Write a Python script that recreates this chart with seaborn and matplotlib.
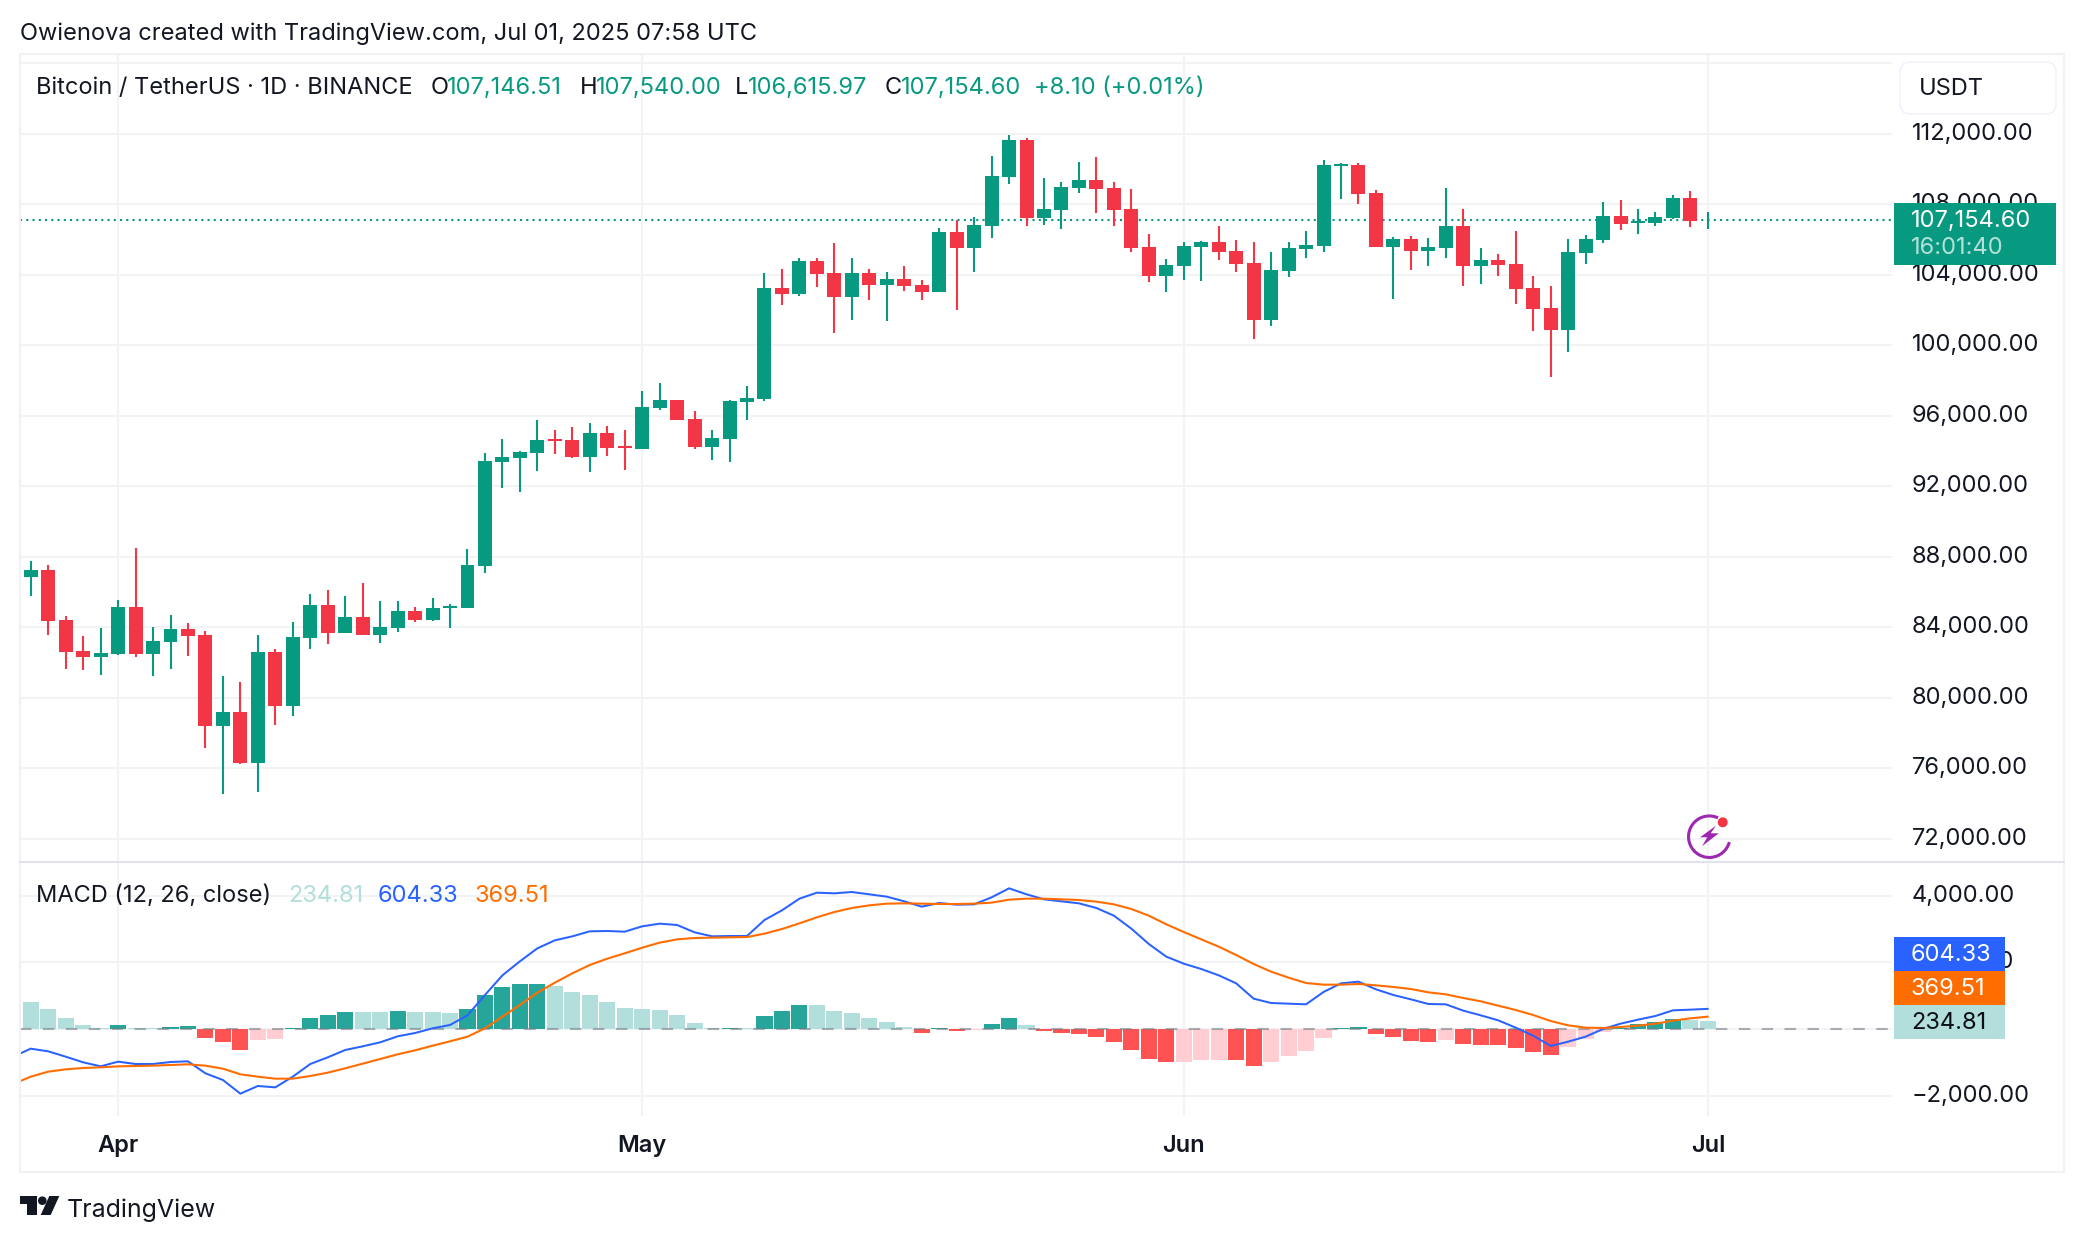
import numpy as np
import matplotlib
matplotlib.use('Agg')
import matplotlib.pyplot as plt
from matplotlib.patches import Rectangle, FancyBboxPatch, Circle, Arc, Polygon
from matplotlib.transforms import Affine2D
import seaborn as sns

# ---- daily candles, Mar 27 to Jul 1 2025
opens = [86850, 87245, 84415, 82655, 82315, 82485, 85150, 82485, 83165, 83905,
         83565, 78410, 79200, 76315, 82600, 79540, 83395, 85260, 83675, 84585,
         83565, 83960, 84925, 84415, 85090, 85090, 87470, 93380, 93605, 93890,
         94680, 94625, 93660, 95020, 94285, 94115, 96440, 96895, 95815, 94230,
         94680, 96780, 96950, 103245, 102905, 104775, 104095, 102735, 104095, 103415,
         103755, 103415, 103040, 106445, 105535, 106785, 109560, 111660, 107235, 107690,
         108940, 109390, 108940, 107750, 105595, 103950, 104515, 105595, 105875, 105365,
         104685, 101455, 104230, 105480, 105650, 110185, 110240, 108655, 105595, 106045,
         105365, 105535, 106785, 104515, 104855, 104630, 103270, 102135, 100885, 105255,
         105990, 107350, 106955, 106955, 107235, 108370, 107146.51]
highs = [87755, 87530, 84640, 83505, 83960, 85545, 88490, 84015, 84695, 84245,
         83790, 81240, 80900, 83565, 82770, 84300, 85885, 86110, 85770, 86510,
         85490, 85490, 85150, 85660, 85320, 88435, 93890, 94680, 94000, 95760,
         95195, 95365, 95590, 95420, 95195, 97405, 97860, 96895, 96270, 95195,
         96895, 97685, 104095, 104320, 104945, 104945, 105795, 104945, 104320, 104150,
         104490, 103700, 106670, 107125, 107295, 110750, 111945, 111775, 109505, 109280,
         110410, 110695, 109280, 108880, 106330, 104910, 105875, 105935, 106785, 105990,
         105875, 105310, 105875, 106500, 110525, 110355, 110355, 108825, 106160, 106215,
         106105, 108940, 107750, 105535, 105195, 106500, 103950, 103380, 106045, 106275,
         108145, 108260, 107750, 107575, 108540, 108770, 107540.00]
lows = [85770, 83560, 81635, 81580, 81300, 82430, 82315, 81240, 81635, 82375,
        77165, 74555, 76255, 74670, 78465, 78975, 82770, 83055, 83675, 83565,
        83110, 83735, 84300, 84355, 83960, 85090, 87075, 91905, 91675, 92870,
        93830, 93605, 92810, 93720, 92925, 94115, 96325, 95760, 94115, 93490,
        93380, 95760, 96835, 102280, 102790, 103300, 100695, 101430, 102565, 101375,
        103075, 102565, 103040, 102020, 104175, 106105, 109165, 106785, 106840, 106615,
        108655, 107520, 106785, 105310, 103610, 103040, 103720, 103665, 104855, 104175,
        100375, 101115, 103890, 104970, 105310, 108315, 108030, 105595, 102645, 104290,
        104515, 104970, 103380, 103495, 103950, 102360, 100830, 98220, 99640, 104630,
        105820, 106555, 106330, 106785, 107180, 106725, 106615.97]
closes = [87245, 84355, 82600, 82315, 82545, 85150, 82485, 83225, 83905, 83505,
          78410, 79200, 76315, 82600, 79540, 83450, 85260, 83675, 84585, 83565,
          84015, 84925, 84415, 85090, 85205, 87530, 93435, 93660, 93945, 94625,
          94570, 93660, 95020, 94170, 94170, 96495, 96895, 95760, 94230, 94740,
          96835, 97005, 103245, 102905, 104775, 104040, 102735, 104095, 103415, 103755,
          103355, 103015, 106445, 105535, 106840, 109620, 111660, 107235, 107750, 108995,
          109390, 108880, 107690, 105535, 103950, 104570, 105650, 105875, 105310, 104630,
          101455, 104290, 105535, 105705, 110240, 110300, 108600, 105595, 106045, 105365,
          105595, 106785, 104515, 104855, 104570, 103210, 102080, 100885, 105310, 106045,
          107350, 106895, 107065, 107295, 108370, 107065, 107154.60]

# ---- MACD pane, first value of the two lines is the day before the first candle
macd_line = [-830, -590, -670, -830, -1000, -1120, -980, -1050, -1050, -990,
             -970, -1330, -1530, -1940, -1710, -1750, -1430, -1050, -850, -630,
             -520, -400, -220, -120, 20, 120, 410, 1020, 1610, 2030,
             2420, 2660, 2780, 2930, 2940, 2920, 3080, 3160, 3120, 2900,
             2780, 2790, 2790, 3270, 3560, 3910, 4090, 4070, 4110, 4040,
             3970, 3830, 3670, 3780, 3730, 3740, 3950, 4220, 4040, 3890,
             3830, 3770, 3630, 3400, 3010, 2550, 2170, 1960, 1800, 1610,
             1370, 910, 780, 760, 740, 1110, 1370, 1420, 1190, 1020,
             890, 750, 740, 550, 410, 260, 40, -200, -510, -380,
             -230, 0, 160, 280, 390, 560, 580, 604.33]
signal_line = [-1650, -1430, -1280, -1210, -1170, -1150, -1120, -1110, -1100, -1080,
               -1060, -1100, -1190, -1360, -1430, -1490, -1490, -1410, -1310, -1180,
               -1040, -900, -760, -640, -500, -370, -230, 20, 370, 720,
               1090, 1390, 1670, 1920, 2110, 2270, 2440, 2590, 2690, 2730,
               2740, 2750, 2760, 2860, 3000, 3170, 3350, 3510, 3630, 3710,
               3760, 3770, 3760, 3750, 3750, 3760, 3790, 3880, 3910, 3910,
               3890, 3870, 3820, 3740, 3600, 3400, 3140, 2910, 2690, 2470,
               2220, 1950, 1720, 1540, 1380, 1330, 1330, 1350, 1310, 1260,
               1200, 1100, 1040, 930, 830, 700, 570, 420, 240, 110,
               40, 30, 60, 100, 160, 250, 320, 369.51]
histogram = [810, 600, 330, 120, 30, 120, 30, 30, 60, 90,
             -270, -390, -630, -330, -300, 30, 330, 420, 510, 510,
             510, 540, 510, 510, 480, 600, 1020, 1260, 1350, 1360,
             1290, 1110, 1020, 810, 630, 600, 570, 420, 180, 20,
             30, 20, 390, 540, 720, 720, 540, 480, 330, 210,
             60, -120, 30, -60, -30, 150, 330, 120, -60, -120,
             -150, -240, -390, -630, -900, -990, -985, -930, -925, -940,
             -1110, -990, -810, -660, -270, 30, 60, -150, -240, -360,
             -390, -330, -450, -480, -490, -570, -690, -780, -540, -300,
             -90, 30, 150, 210, 300, 270, 234.81]

price_ticks = [72000, 76000, 80000, 84000, 88000, 92000, 96000, 100000, 104000, 108000, 112000, 116000]
macd_ticks = [-2000, 0, 2000, 4000]
macd_tick_labels = ['\u22122,000.00', '0.00', '2,000.00', '4,000.00']
month_days = [5, 35, 66, 96]
month_labels = ['Apr', 'May', 'Jun', 'Jul']
last_price = 107154.60

UP = '#089981'
DOWN = '#F23645'
INK = '#131722'
GRID = '#F2F3F5'
BORDER = '#F0F1F4'
BLUE = '#2962FF'
ORANGE = '#FF6D00'
W, H = 2084, 1242

sns.set_theme(style='white')
plt.rcParams['font.family'] = ['Inter', 'DejaVu Sans']
plt.rcParams['ytick.alignment'] = 'center'
FS = 17
HEAD = 17

fig = plt.figure(figsize=(W / 100, H / 100), dpi=100, facecolor='white')
# pixels measured from the top left corner, for everything around the plots
px = Affine2D().scale(1, -1).translate(0, H)


def add_axes_px(left, top, right, bottom):
    return fig.add_axes([left / W, 1 - bottom / H, (right - left) / W, (bottom - top) / H])


ax1 = add_axes_px(20, 54, 1892, 862)
ax2 = add_axes_px(20, 862, 1892, 1116)

days = np.arange(len(opens))
opens_a, closes_a = np.array(opens), np.array(closes)
rising = closes_a >= opens_a
candle_colors = np.where(rising, UP, DOWN)

# ---- price pane
ax1.vlines(days, lows, highs, colors=candle_colors, linewidth=1.5, zorder=3)
ax1.bar(days, np.abs(closes_a - opens_a), bottom=np.minimum(opens_a, closes_a), width=0.8,
        color=candle_colors, linewidth=0, zorder=4)
ax1.axhline(last_price - 50, color=UP, linewidth=1.5, linestyle=(0, (1, 2)), zorder=2)

# ---- macd pane
hist = np.array(histogram)
prev = np.r_[np.inf, hist[:-1]]
hist_class = np.where(hist >= 0,
                      np.where(hist > prev, 'up strong', 'up weak'),
                      np.where(hist > prev, 'down weak', 'down strong'))
hist_palette = {'up strong': '#26A69A', 'up weak': '#B2DFDB', 'down weak': '#FFCDD2', 'down strong': '#FF5252'}
sns.barplot(x=days, y=hist, hue=hist_class, palette=hist_palette, dodge=False, native_scale=True,
            width=0.92, saturation=1, legend=False, linewidth=0, ax=ax2, zorder=3)
line_days = np.arange(-1, len(opens))
sns.lineplot(x=line_days, y=macd_line, color=BLUE, linewidth=1.45, estimator=None, ax=ax2, zorder=5)
sns.lineplot(x=line_days, y=signal_line, color=ORANGE, linewidth=1.5, estimator=None, ax=ax2, zorder=6)
ax2.axhline(0, color='#787B86', alpha=0.6, linewidth=1.5, linestyle=(0, (5.5, 5.5)), zorder=4)

for ax in (ax1, ax2):
    ax.set_xlim(-0.615, 106.54)
    ax.set_xticks(month_days)
    ax.grid(True, color=GRID, linewidth=1.5, zorder=0)
    ax.set_axisbelow(True)
    ax.yaxis.tick_right()
    ax.tick_params(axis='both', length=0, labelcolor=INK, labelsize=FS)
    ax.tick_params(axis='y', pad=14)
    ax.set_xlabel('')
    ax.set_ylabel('')
    sns.despine(ax=ax, left=True, bottom=True, right=True, top=True)

ax1.set_ylim(70680, 116520)
ax1.set_yticks(price_ticks)
ax1.set_yticklabels([f'{t:,.2f}' for t in price_ticks[:-1]] + [''])
ax1.tick_params(axis='x', labelbottom=False)

ax2.set_ylim(-2610, 5010)
ax2.set_yticks(macd_ticks)
ax2.set_yticklabels(macd_tick_labels)
ax2.set_xticks(month_days)
ax2.set_xticklabels(month_labels, fontweight='semibold')
ax2.tick_params(axis='x', pad=14)

# ---- frame and pane separator
fig.add_artist(Rectangle((20, 54), 2044, 1118, transform=px, fill=False, edgecolor=BORDER, linewidth=1.5, zorder=1))
fig.add_artist(plt.Line2D([20, 2064], [862, 862], transform=px, color='#E0E3EB', linewidth=1.5, zorder=1))


# tags sit above the tick labels, as in the reference
def tag(x0, y0, x1, y1, face):
    fig.add_artist(Rectangle((x0, y0), x1 - x0, y1 - y0, transform=px, facecolor=face, linewidth=0, zorder=5))


def label(x, y, s, color=INK, size=FS, **kw):
    fig.text(x, y, s, transform=px, color=color, fontsize=size, va='center', zorder=6, **kw)


# ---- price tag and currency button
tag(1894, 203, 2056, 265, UP)
label(1911, 221, f'{last_price:,.2f}', color='white')
label(1911, 248, '16:01:40', color='#B5E0D9')
fig.add_artist(FancyBboxPatch((1904, 66), 148, 44, boxstyle='round,pad=4,rounding_size=10', transform=px,
                              facecolor='white', edgecolor='#F0F3FA', linewidth=1.2, zorder=5))
label(1919, 89, 'USDT')

# ---- macd value tags
tag(1894, 937, 2005, 971, BLUE)
tag(1894, 971, 2005, 1005, ORANGE)
tag(1894, 1005, 2005, 1039, '#B2DFDB')
label(1911, 955, f'{macd_line[-1]:.2f}', color='white')
label(1911, 989, f'{signal_line[-1]:.2f}', color='white')
label(1911, 1023, f'{histogram[-1]:.2f}', color='#0B0E14')

# ---- header lines
label(20, 34, 'Owienova created with TradingView.com, Jul 01, 2025 07:58 UTC', size=HEAD)
label(36, 88, 'Bitcoin / TetherUS \u00b7 1D \u00b7 BINANCE', size=HEAD)
for x, s, c in [(431, 'O', INK), (447, f'{opens[-1]:,.2f}', UP),
                (580, 'H', INK), (596, f'{highs[-1]:,.2f}', UP),
                (735, 'L', INK), (748, f'{lows[-1]:,.2f}', UP),
                (885, 'C', INK), (901, f'{closes[-1]:,.2f}', UP),
                (1034, '+8.10 (+0.01%)', UP)]:
    label(x, 88, s, color=c, size=HEAD)
label(36, 896, 'MACD (12, 26, close)', size=HEAD)
label(288, 896, f'{histogram[-1]:.2f}', color='#B2DFDB', size=HEAD)
label(378, 896, f'{macd_line[-1]:.2f}', color=BLUE, size=HEAD)
label(475, 896, f'{signal_line[-1]:.2f}', color=ORANGE, size=HEAD)

# ---- bolt icon
fig.add_artist(Arc((1709.3, 836.7), 41.5, 41.5, theta1=-345, theta2=-65, transform=px,
                   color='#9C27B0', linewidth=2.2, zorder=5))
fig.add_artist(Polygon([(1716, 825.7), (1700, 837.3), (1707.3, 837.3), (1702, 846.3),
                        (1718.7, 833.3), (1710.7, 833.3)], transform=px, facecolor='#9C27B0', linewidth=0, zorder=5))
fig.add_artist(Circle((1722.7, 822.3), 5, transform=px, facecolor=DOWN, linewidth=0, zorder=6))

# ---- tradingview mark
LOGO = '#131722'
fig.add_artist(Polygon([(20, 1196), (37.3, 1196), (37.3, 1215), (27, 1215), (27, 1204), (20, 1204)], transform=px,
                       facecolor=LOGO, linewidth=0, zorder=5))
fig.add_artist(Circle((42.3, 1200.7), 4.3, transform=px, facecolor=LOGO, linewidth=0, zorder=5))
fig.add_artist(Polygon([(49.3, 1196), (59.3, 1196), (50.7, 1215), (40.7, 1215)], transform=px,
                       facecolor=LOGO, linewidth=0, zorder=5))
label(67, 1210, 'TradingView', size=18)

fig.savefig('out.png', dpi=100, facecolor='white')
